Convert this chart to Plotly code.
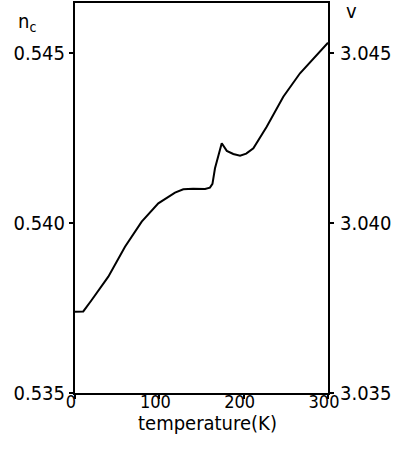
import plotly.graph_objects as go

temperature = [0, 9.8, 19.8, 39.5, 59.3, 79.1, 98.8, 118.6, 128.4, 140, 154.2, 160, 163, 166, 174, 180, 187.7, 195.7, 203, 211.5, 227.3, 247, 266.8, 286.6, 300]
n_c = [0.53739, 0.53740, 0.537735, 0.538421, 0.539303, 0.540038, 0.540579, 0.540891, 0.540991, 0.541005, 0.541000, 0.541040, 0.541150, 0.541609, 0.542344, 0.542120, 0.542029, 0.541979, 0.542040, 0.542197, 0.542832, 0.543715, 0.544403, 0.544941, 0.545300]

x_ticks = [0, 100, 200, 300]
y_ticks = [0.535, 0.540, 0.545]
y_tick_text = ["0.535", "0.540", "0.545"]
y2_ticks = [3.035, 3.040, 3.045]
y2_tick_text = ["3.035", "3.040", "3.045"]

FONT = "DejaVu Sans Condensed, DejaVu Sans, sans-serif"

fig = go.Figure()
fig.add_trace(go.Scatter(x=temperature, y=n_c, mode="lines",
                         line=dict(color="black", width=2), showlegend=False))
# invisible trace to activate the right axis
fig.add_trace(go.Scatter(x=[0, 300], y=[3.035, 3.045], yaxis="y2", mode="lines",
                         line=dict(color="rgba(0,0,0,0)"), showlegend=False, hoverinfo="skip"))

axis_common = dict(showgrid=False, zeroline=False, linecolor="black", linewidth=2,
                   ticks="outside", ticklen=4, tickwidth=1.5, tickcolor="black",
                   automargin=False)

fig.update_layout(
    width=395, height=452,
    margin=dict(l=75, r=67, t=3, b=59),
    plot_bgcolor="white", paper_bgcolor="white",
    xaxis=dict(range=[0, 300], tickmode="array", tickvals=x_ticks, mirror=True,
               ticklabelstandoff=-13, ticklabelshift=-4,
               tickfont=dict(family=FONT, size=18, color="black"), **axis_common),
    yaxis=dict(range=[0.535, 0.54647], tickmode="array", tickvals=y_ticks, ticktext=y_tick_text,
               tickfont=dict(family=FONT, size=20, color="black"), **axis_common),
    yaxis2=dict(range=[3.035, 3.04647], tickmode="array", tickvals=y2_ticks, ticktext=y2_tick_text,
                overlaying="y", side="right", ticklabelstandoff=2,
                tickfont=dict(family=FONT, size=20, color="black"), **axis_common),
    annotations=[
        dict(text="temperature(K)", x=0.522, y=-0.076, xref="paper", yref="paper",
             xanchor="center", yanchor="middle",
             showarrow=False, font=dict(family=FONT, size=20, color="black")),
        dict(text="n<sub>c</sub>", x=-0.19, y=0.951, xref="paper", yref="paper",
             xanchor="center", yanchor="middle",
             showarrow=False, font=dict(family=FONT, size=20, color="black")),
        dict(text="v", x=1.091, y=0.980, xref="paper", yref="paper",
             xanchor="center", yanchor="middle",
             showarrow=False, font=dict(family=FONT, size=20, color="black")),
    ],
)

fig.write_html("out.html", config={"displayModeBar": False},
               post_script="document.body.style.margin='0px';")
